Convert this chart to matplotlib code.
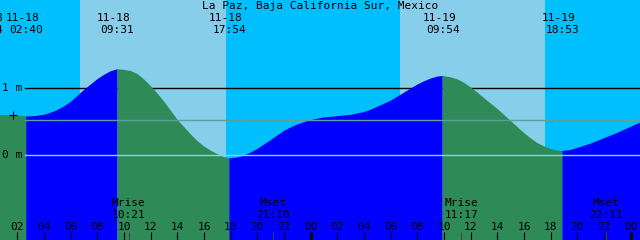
import matplotlib.pyplot as plt
import numpy as np

# tide height (m), hours counted from 11-18 00:00
hours = [0, 1, 2, 2.667, 3, 3.5, 4, 4.5, 5, 5.5, 6, 6.5, 7, 7.5, 8, 8.5, 9, 9.517,
         10, 10.5, 11, 11.5, 12, 12.5, 13, 13.5, 14, 14.5, 15, 15.5, 16, 16.5, 17, 17.5,
         17.9, 18.5, 19, 19.5, 20, 20.5, 21, 21.5, 22, 22.5, 23, 23.5, 24, 25, 26, 27,
         28, 28.5, 29, 29.5, 30, 30.5, 31, 31.5, 32, 32.5, 33, 33.5, 33.9,
         34.5, 35, 35.5, 36, 36.5, 37, 37.5, 38, 38.5, 39, 39.5, 40, 40.5, 41, 41.5,
         42, 42.5, 42.883, 43.5, 44, 45, 46, 47, 48, 49]
heights = [0.60, 0.595, 0.585, 0.575, 0.577, 0.585, 0.60, 0.63, 0.67, 0.725, 0.79, 0.88,
           0.97, 1.05, 1.13, 1.195, 1.25, 1.28,
           1.27, 1.255, 1.21, 1.13, 1.03, 0.92, 0.80, 0.665, 0.53, 0.42, 0.31, 0.21,
           0.13, 0.065, 0.015, -0.03,
           -0.05, -0.037, -0.01, 0.035, 0.09, 0.155, 0.22, 0.29, 0.36, 0.41, 0.455,
           0.49, 0.52, 0.56, 0.58, 0.60,
           0.64, 0.675, 0.72, 0.765, 0.81, 0.87, 0.93, 0.99, 1.05, 1.10, 1.14, 1.17, 1.18,
           1.16, 1.13, 1.08, 1.01, 0.935, 0.85, 0.77, 0.69, 0.60, 0.51, 0.42, 0.33,
           0.25, 0.18, 0.13,
           0.09, 0.065, 0.06, 0.075, 0.105, 0.17, 0.25, 0.33, 0.42, 0.51]

# high / low tides
event_hours = [2.667, 9.517, 17.9, 33.9, 42.883]
event_dates = ['11-18', '11-18', '11-18', '11-19', '11-19']
event_times = ['02:40', '09:31', '17:54', '09:54', '18:53']

# daylight
sunrise = [6.7, 30.7]
sunset = [17.65, 41.6]

# moon
moon_hours = [10.35, 21.167, 35.283, 46.183]
moon_names = ['Mrise', 'Mset', 'Mrise', 'Mset']
moon_times = ['10:21', '21:10', '11:17', '22:11']

tick_hours = list(range(2, 49, 2))

night = '#00bfff'
day = '#87ceeb'
rising = '#0000ff'
falling = '#2e8b57'

plt.rcParams['font.family'] = 'DejaVu Sans Mono'
plt.rcParams['font.size'] = 8

t0, t1 = 0.7, 48.7
px_per_h = 640 / (t1 - t0)

fig = plt.figure(figsize=(6.4, 2.4), dpi=100)
ax = fig.add_axes([0, 0, 1, 1])
ax.set_xlim(t0, t1)
ax.set_ylim((155 - 240) / 67, 155 / 67)
ax.axis('off')
fig.patch.set_facecolor(night)

def py(y):
    # pixel row from the top -> axes fraction
    return 1 - y / 240

tr = ax.get_xaxis_transform()

# sky
ax.axvspan(t0 - 1, t1 + 1, color=night, zorder=0, lw=0)
for a, b in zip(sunrise, sunset):
    ax.axvspan(a, b, color=day, zorder=0, lw=0)

# 1 m line sits behind the water
x_line = t0 + 25 / px_per_h
ax.plot([x_line, t1 + 1], [1, 1], color='black', lw=1.0, zorder=1)

# water, blue while rising, green while falling
t = np.array(hours)
h = np.array(heights)
bounds = [hours[0]] + event_hours + [hours[-1]]
for a, b in zip(bounds[:-1], bounds[1:]):
    m = (t >= a) & (t <= b)
    col = rising if h[m][-1] > h[m][0] else falling
    ax.fill_between(t[m], h[m], -5, color=col, lw=0, zorder=2)

ax.plot([x_line, t1 + 1], [0.522, 0.522], color='#5f9ea0', lw=1.0, zorder=3)
ax.plot([x_line, t1 + 1], [0, 0], color='#87cefa', lw=1.0, zorder=3)
ax.plot([t0 + 13.3 / px_per_h], [0.597], marker='+', color='black',
        markersize=6, markeredgewidth=0.8, zorder=4)

ax.text(t0 + 2 / px_per_h, 1, '1 m', va='center', ha='left', zorder=4)
ax.text(t0 + 2 / px_per_h, 0, '0 m', va='center', ha='left', zorder=4)

ax.text(0.5, py(9), 'La Paz, Baja California Sur, Mexico', transform=ax.transAxes,
        ha='center', va='baseline', zorder=4)

# tide labels
dx = 3.5 / px_per_h
for eh, d, tm in zip(event_hours, event_dates, event_times):
    ax.text(eh - dx, py(21), d, transform=tr, ha='center', va='baseline', zorder=4)
    ax.text(eh, py(33), tm, transform=tr, ha='center', va='baseline', zorder=4)
# previous label, cut off at the left edge like in the original
ax.text(t0 + 3 / px_per_h, py(21), '11-18', transform=tr, ha='right', va='baseline', zorder=4)
ax.text(t0 + 3.5 / px_per_h, py(33), '00:04', transform=tr, ha='right', va='baseline', zorder=4)

# moon labels and ticks
for mh, n, tm in zip(moon_hours, moon_names, moon_times):
    ax.text(mh, py(206), n, transform=tr, ha='center', va='baseline', zorder=4)
    ax.text(mh, py(218), tm, transform=tr, ha='center', va='baseline', zorder=4)
    ax.vlines(mh, 0, py(232), transform=tr, color='#404040', lw=0.7, zorder=4)

# hour ticks
for th in tick_hours:
    lw = 2.2 if th % 24 == 0 else 0.8
    ax.vlines(th, 0, py(232), transform=tr, color='black', lw=lw, zorder=4)
    ax.text(th, py(230), '%02d' % (th % 24), transform=tr, ha='center', va='baseline', zorder=4)

fig.savefig('out.png', dpi=100, facecolor=night)
